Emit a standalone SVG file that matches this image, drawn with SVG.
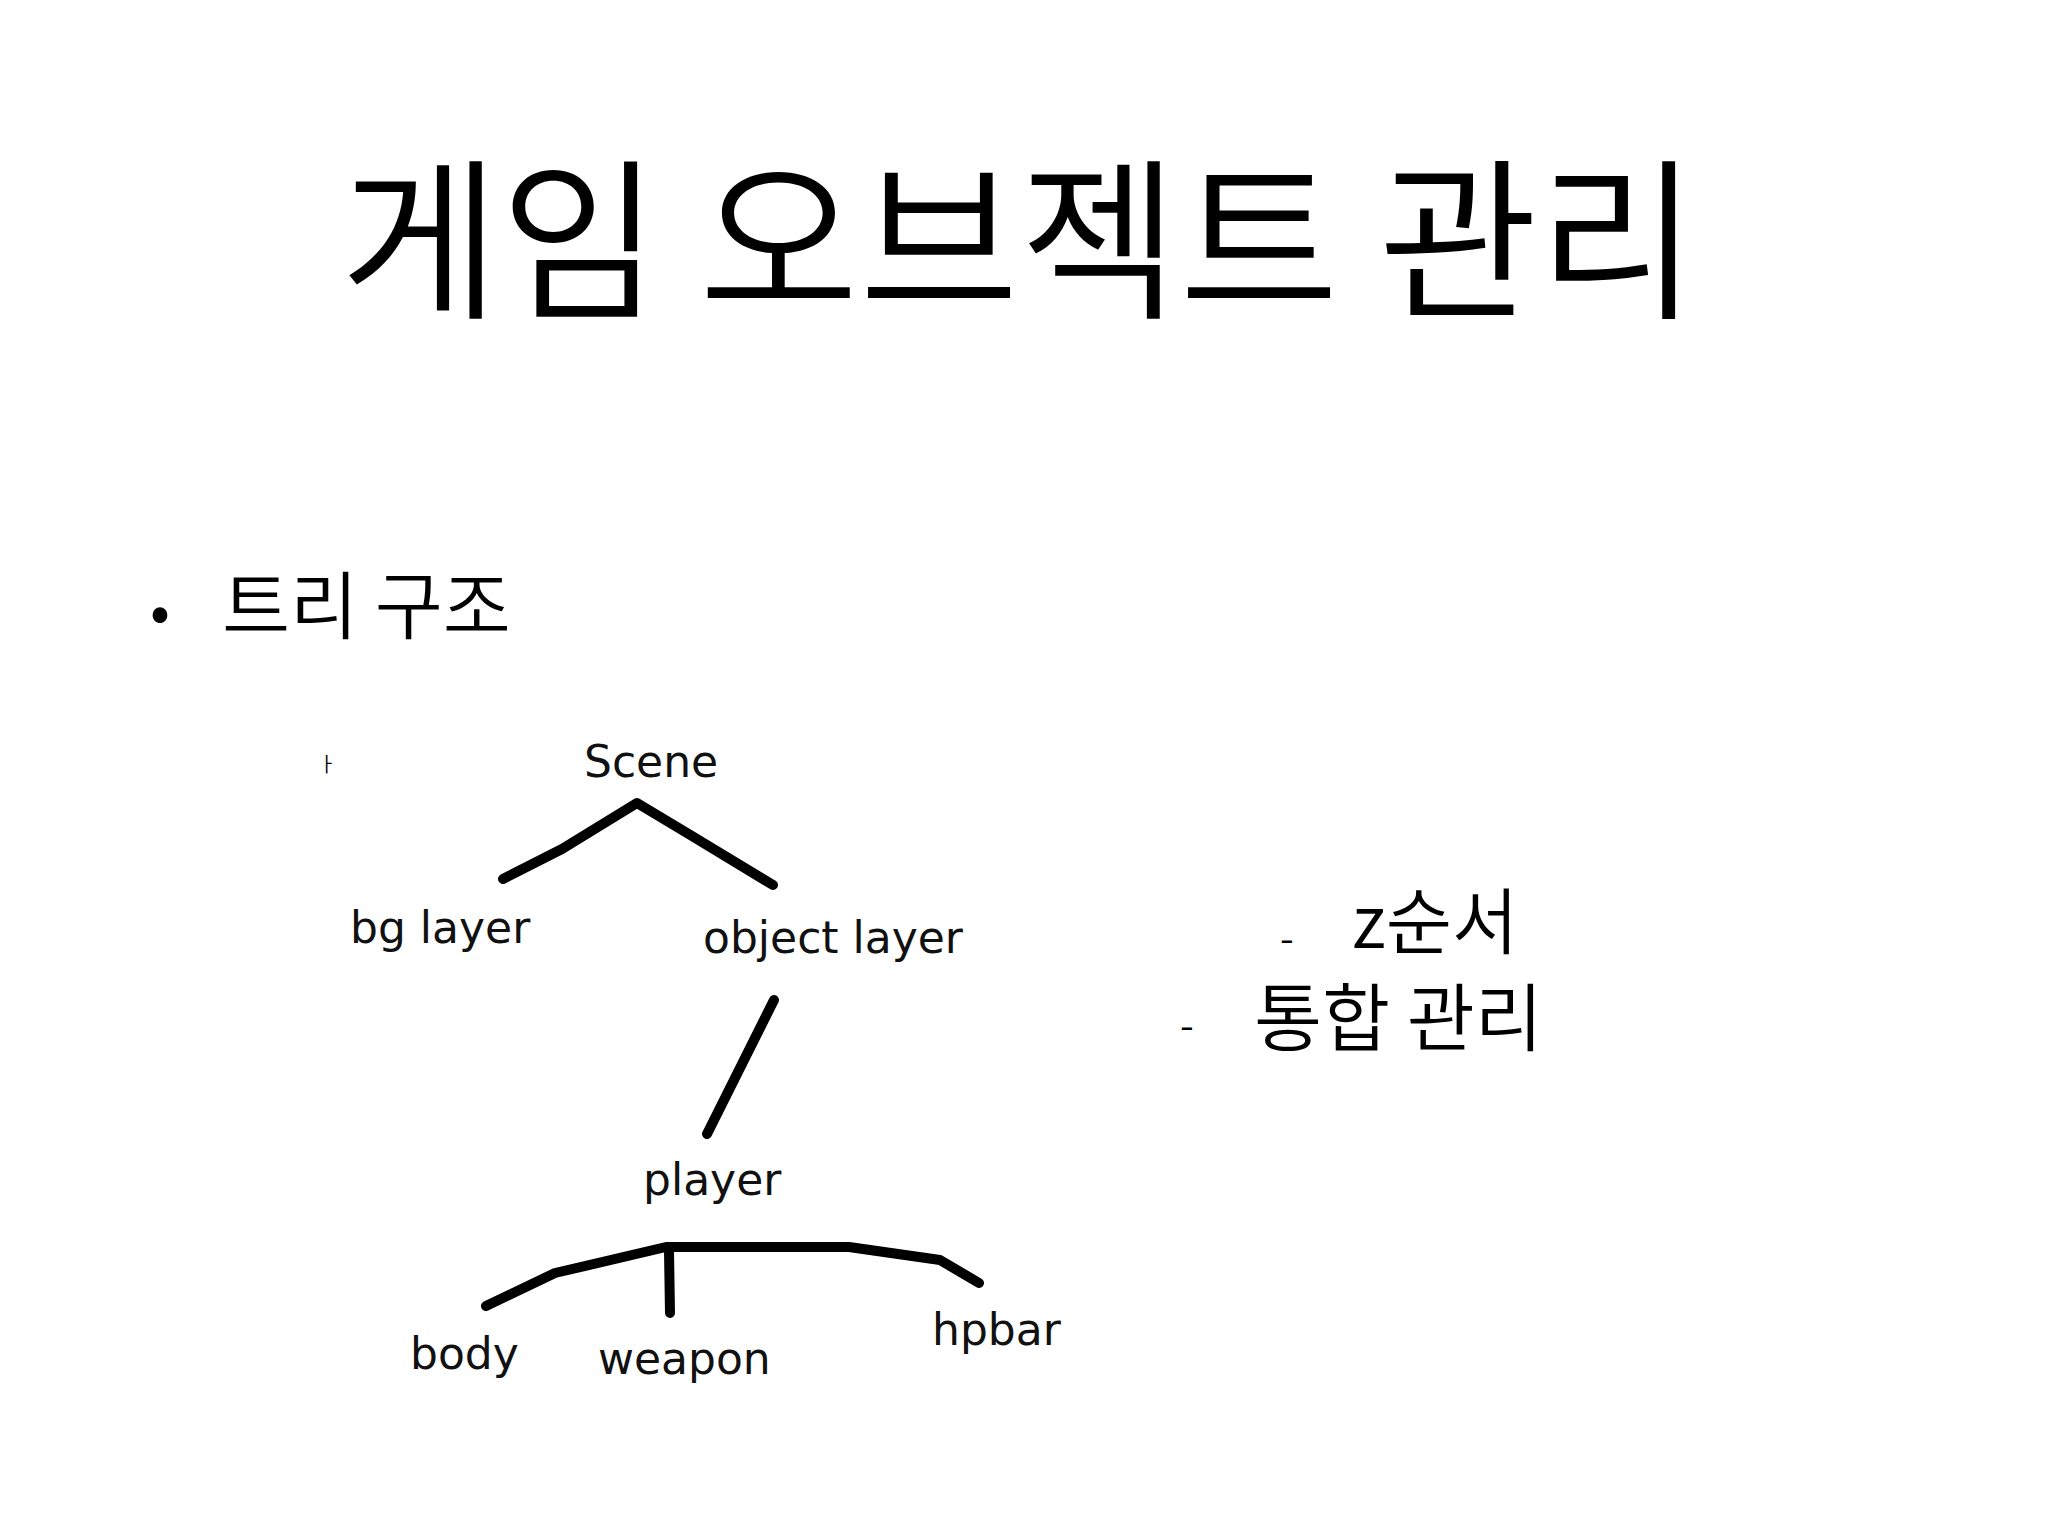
<svg xmlns="http://www.w3.org/2000/svg" width="2048" height="1536" viewBox="0 0 2048 1536">
<style>
.k{font-family:"Noto Sans CJK KR","Noto Sans",sans-serif;fill:#000;font-weight:350}
.t{font-family:"DejaVu Sans",Verdana,sans-serif;font-size:44px;fill:#111}
.l{fill:none;stroke:#000;stroke-width:10;stroke-linecap:round;stroke-linejoin:round}
</style>
<rect width="2048" height="1536" fill="#fff"/>
<text class="k" x="1019" y="305" font-size="174" text-anchor="middle">게임 오브젝트 관리</text>
<text class="k" x="150" y="633" font-size="60">•</text>
<text class="k" x="222" y="633" font-size="74">트리 구조</text>
<text class="k" x="318" y="772" font-size="20">ㅏ</text>
<g id="connectors">
<polyline class="l" points="503,879 562,849 637,803 692,836 773,885"/>
<polyline class="l" points="774,1000 744,1060 707,1134"/>
<polyline class="l" points="486,1306 555,1273 666,1247 849,1247 940,1260 979,1283"/>
<line class="l" x1="669" y1="1251" x2="670" y2="1313"/>
</g>
<g id="scene"><text class="t" x="584" y="777">Scene</text></g>
<g id="bg"><text class="t" x="350" y="943">bg layer</text></g>
<g id="object"><text class="t" x="703" y="953">object layer</text></g>
<g id="player"><text class="t" x="643" y="1195">player</text></g>
<g id="body"><text class="t" x="410" y="1369">body</text></g>
<g id="weapon"><text class="t" x="598" y="1374">weapon</text></g>
<g id="hpbar"><text class="t" x="932" y="1345">hpbar</text></g>
<text class="k" x="1280" y="953" font-size="40">-</text>
<text class="k" x="1352" y="948" font-size="72">z순서</text>
<text class="k" x="1180" y="1040" font-size="40">-</text>
<text class="k" x="1254" y="1045" font-size="74">통합 관리</text>
</svg>
